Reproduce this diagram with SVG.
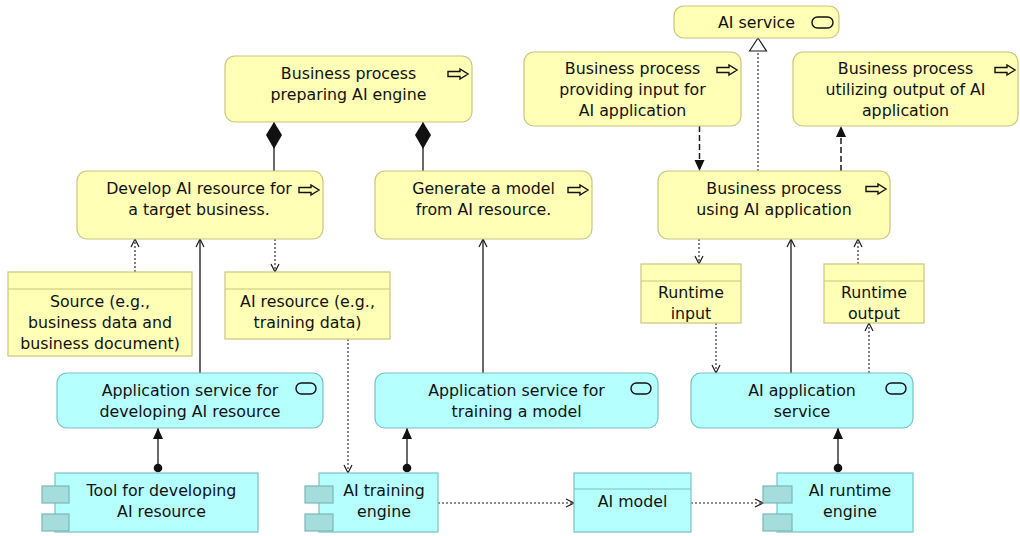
<svg xmlns="http://www.w3.org/2000/svg" width="1020" height="536" viewBox="0 0 1020 536">
  <style>
    .biz { fill: #ffffb5; stroke: #c8c67e; stroke-width: 1.2; }
    .app { fill: #b5ffff; stroke: #7cc0c0; stroke-width: 1.2; }
    .tab { fill: #a5dcdc; stroke: #7ab7b7; stroke-width: 1.2; }
    .hdr { fill: none; stroke: #c8c67e; stroke-width: 1.2; }
    .hdrA { fill: none; stroke: #7cc0c0; stroke-width: 1.2; }
    .icon { fill: none; stroke: #111; stroke-width: 1.4; }
    text { font-family: "DejaVu Sans", Verdana, sans-serif; font-size: 15.8px; fill: #111; text-anchor: middle; }
    .line { fill: none; stroke: #1a1a1a; stroke-width: 1.3; }
    .dot { stroke-dasharray: 2 2; stroke-width: 1.1; }
    .dash { stroke-dasharray: 6 3; stroke-width: 1.5; }
  </style>
  <defs>
    <marker id="diamond" markerUnits="userSpaceOnUse" markerWidth="30" markerHeight="20" refX="0" refY="8" orient="auto" overflow="visible">
      <path d="M0,8 L13,0 L27,8 L13,16 Z" fill="#111"/>
    </marker>
    <marker id="openArrow" markerUnits="userSpaceOnUse" markerWidth="12" markerHeight="12" refX="8" refY="4" orient="auto" overflow="visible">
      <path d="M0,0 L8,4 L0,8" fill="none" stroke="#1a1a1a" stroke-width="1.2"/>
    </marker>
    <marker id="fillArrow" markerUnits="userSpaceOnUse" markerWidth="14" markerHeight="12" refX="11" refY="5" orient="auto" overflow="visible">
      <path d="M0,0 L11,5 L0,10 Z" fill="#111"/>
    </marker>
    <marker id="hollowTri" markerUnits="userSpaceOnUse" markerWidth="16" markerHeight="20" refX="13" refY="8.5" orient="auto" overflow="visible">
      <path d="M0,0 L13,8.5 L0,17 Z" fill="#fff" stroke="#1a1a1a" stroke-width="1.2"/>
    </marker>
    <marker id="ball" markerUnits="userSpaceOnUse" markerWidth="10" markerHeight="10" refX="0" refY="0" orient="auto" overflow="visible">
      <circle cx="0" cy="0" r="4.3" fill="#111"/>
    </marker>
    <path id="procIcon" d="M0,2.5 H12 V0 L20,5 L12,10 V7.5 H0 Z"/>
  </defs>

  <!-- connectors -->
  <g id="connectors">
    <!-- composition -->
    <path class="line" d="M274,122 V171" marker-start="url(#diamond)"/>
    <path class="line" d="M423,122 V171" marker-start="url(#diamond)"/>
    <!-- serving -->
    <path class="line" d="M200,373 V239" marker-end="url(#openArrow)"/>
    <path class="line" d="M483,373 V239" marker-end="url(#openArrow)"/>
    <path class="line" d="M791,373 V239" marker-end="url(#openArrow)"/>
    <!-- access -->
    <path class="line dot" d="M135,272 V239" marker-end="url(#openArrow)"/>
    <path class="line dot" d="M275,239 V272" marker-end="url(#openArrow)"/>
    <path class="line dot" d="M348,339 V473" marker-end="url(#openArrow)"/>
    <path class="line dot" d="M438,503 H574" marker-end="url(#openArrow)"/>
    <path class="line dot" d="M691,503 H763" marker-end="url(#openArrow)"/>
    <path class="line dot" d="M699,239 V264" marker-end="url(#openArrow)"/>
    <path class="line dot" d="M716,323 V373" marker-end="url(#openArrow)"/>
    <path class="line dot" d="M869,373 V323" marker-end="url(#openArrow)"/>
    <path class="line dot" d="M858,264 V239" marker-end="url(#openArrow)"/>
    <!-- assignment -->
    <path class="line" d="M158,468 V428" marker-start="url(#ball)" marker-end="url(#fillArrow)"/>
    <path class="line" d="M407,468 V428" marker-start="url(#ball)" marker-end="url(#fillArrow)"/>
    <path class="line" d="M838,468 V428" marker-start="url(#ball)" marker-end="url(#fillArrow)"/>
    <!-- realization -->
    <path class="line dot" d="M758,171 V38" marker-end="url(#hollowTri)"/>
    <!-- flow -->
    <path class="line dash" d="M699.5,126 V171" marker-end="url(#fillArrow)"/>
    <path class="line dash" d="M841,171 V126" marker-end="url(#fillArrow)"/>
  </g>

  <!-- business layer -->
  <g id="bp-preparing">
    <rect class="biz" x="225" y="56" width="247" height="66" rx="10"/>
    <use href="#procIcon" class="icon" x="448" y="69"/>
    <text x="348.5" y="79">Business process</text>
    <text x="348.5" y="100">preparing AI engine</text>
  </g>
  <g id="develop-resource">
    <rect class="biz" x="77" y="171" width="246" height="68" rx="10"/>
    <use href="#procIcon" class="icon" x="299" y="185"/>
    <text x="199" y="194">Develop AI resource for</text>
    <text x="199" y="215">a target business.</text>
  </g>
  <g id="generate-model">
    <rect class="biz" x="375" y="171" width="217" height="68" rx="10"/>
    <use href="#procIcon" class="icon" x="568" y="185"/>
    <text x="483.5" y="194">Generate a model</text>
    <text x="483.5" y="215">from AI resource.</text>
  </g>
  <g id="source">
    <rect class="biz" x="8" y="272" width="184" height="84"/>
    <line class="hdr" x1="8" y1="289" x2="192" y2="289"/>
    <text x="100" y="307">Source (e.g.,</text>
    <text x="100" y="328">business data and</text>
    <text x="100" y="349">business document)</text>
  </g>
  <g id="ai-resource">
    <rect class="biz" x="225" y="272" width="165" height="67"/>
    <line class="hdr" x1="225" y1="289" x2="390" y2="289"/>
    <text x="307.5" y="307">AI resource (e.g.,</text>
    <text x="307.5" y="328">training data)</text>
  </g>
  <g id="ai-service">
    <rect class="biz" x="674" y="6" width="165" height="32" rx="10"/>
    <rect class="icon" x="812" y="17" width="21" height="11" rx="5.5"/>
    <text x="756.5" y="28">AI service</text>
  </g>
  <g id="bp-providing-input">
    <rect class="biz" x="524" y="52" width="217" height="74" rx="10"/>
    <use href="#procIcon" class="icon" x="717" y="65"/>
    <text x="632.5" y="74">Business process</text>
    <text x="632.5" y="95">providing input for</text>
    <text x="632.5" y="116">AI application</text>
  </g>
  <g id="bp-utilizing-output">
    <rect class="biz" x="793" y="52" width="225" height="74" rx="10"/>
    <use href="#procIcon" class="icon" x="995" y="65"/>
    <text x="905.5" y="74">Business process</text>
    <text x="905.5" y="95">utilizing output of AI</text>
    <text x="905.5" y="116">application</text>
  </g>
  <g id="bp-using-ai">
    <rect class="biz" x="658" y="171" width="232" height="68" rx="10"/>
    <use href="#procIcon" class="icon" x="866" y="184"/>
    <text x="774" y="194">Business process</text>
    <text x="774" y="215">using AI application</text>
  </g>
  <g id="runtime-input">
    <rect class="biz" x="641" y="264" width="100" height="59"/>
    <line class="hdr" x1="641" y1="281" x2="741" y2="281"/>
    <text x="691" y="298">Runtime</text>
    <text x="691" y="319">input</text>
  </g>
  <g id="runtime-output">
    <rect class="biz" x="824" y="264" width="100" height="59"/>
    <line class="hdr" x1="824" y1="281" x2="924" y2="281"/>
    <text x="874" y="298">Runtime</text>
    <text x="874" y="319">output</text>
  </g>

  <!-- application layer -->
  <g id="app-service-develop">
    <rect class="app" x="57" y="373" width="266" height="55" rx="10"/>
    <rect class="icon" x="296" y="383" width="20" height="11" rx="5.5"/>
    <text x="190" y="396">Application service for</text>
    <text x="190" y="417">developing AI resource</text>
  </g>
  <g id="app-service-training">
    <rect class="app" x="375" y="373" width="283" height="55" rx="10"/>
    <rect class="icon" x="631" y="383" width="20" height="11" rx="5.5"/>
    <text x="516.5" y="396">Application service for</text>
    <text x="516.5" y="417">training a model</text>
  </g>
  <g id="ai-app-service">
    <rect class="app" x="691" y="373" width="222" height="55" rx="10"/>
    <rect class="icon" x="886" y="383" width="20" height="11" rx="5.5"/>
    <text x="802" y="396">AI application</text>
    <text x="802" y="417">service</text>
  </g>
  <g id="tool-developing">
    <rect class="app" x="55" y="473" width="203" height="59"/>
    <rect class="tab" x="42" y="486" width="27" height="17"/>
    <rect class="tab" x="42" y="514" width="27" height="17"/>
    <text x="161.5" y="496">Tool for developing</text>
    <text x="161.5" y="517">AI resource</text>
  </g>
  <g id="ai-training-engine">
    <rect class="app" x="319" y="473" width="119" height="59"/>
    <rect class="tab" x="305" y="486" width="28" height="17"/>
    <rect class="tab" x="305" y="514" width="28" height="17"/>
    <text x="384" y="496">AI training</text>
    <text x="384" y="517">engine</text>
  </g>
  <g id="ai-model">
    <rect class="app" x="574" y="473" width="117" height="59"/>
    <line class="hdrA" x1="574" y1="489" x2="691" y2="489"/>
    <text x="632.5" y="507">AI model</text>
  </g>
  <g id="ai-runtime-engine">
    <rect class="app" x="777" y="473" width="136" height="59"/>
    <rect class="tab" x="763" y="486" width="29" height="17"/>
    <rect class="tab" x="763" y="514" width="29" height="17"/>
    <text x="850" y="496">AI runtime</text>
    <text x="850" y="517">engine</text>
  </g>
</svg>
